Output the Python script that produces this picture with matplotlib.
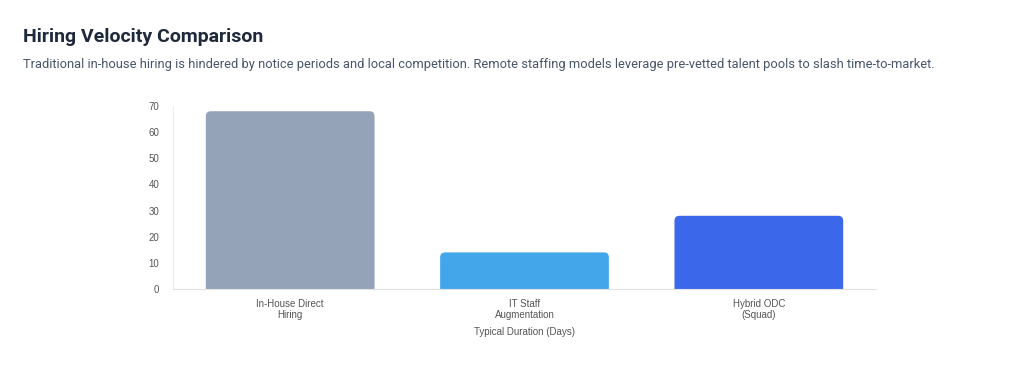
import matplotlib.pyplot as plt
from matplotlib.patches import FancyBboxPatch

categories = ["In-House Direct\nHiring", "IT Staff\nAugmentation", "Hybrid ODC\n(Squad)"]
days = [68, 14, 28]
colors = ["#94a3b8", "#44a6ea", "#3b68eb"]
yticks = [0, 10, 20, 30, 40, 50, 60, 70]

plt.rcParams['font.family'] = ['Roboto', 'DejaVu Sans']

fig = plt.figure(figsize=(10.24, 3.66), dpi=100)
fig.text(0.0225, 0.885, "Hiring Velocity Comparison", fontsize=14, fontweight='bold',
         color='#1e293b', va='baseline')
fig.text(0.0225, 0.815, "Traditional in-house hiring is hindered by notice periods and local competition. "
         "Remote staffing models leverage pre-vetted talent pools to slash time-to-market.",
         fontsize=9.3, color='#475569', va='baseline')

ax = fig.add_axes([173 / 1024, 1 - 289 / 366, (876 - 173) / 1024, (289 - 106) / 366])
x = range(len(categories))
bars = ax.bar(x, days, width=0.72, color=colors)

# swap plain bars for ones with rounded tops
ax.set_xlim(-0.5, len(categories) - 0.5)
ax.set_ylim(0, 70)
px_x = len(categories) / (876 - 173)
px_y = 70 / (289 - 106)
rx = 5 * px_x
ry = 5 * px_y
for b, c in zip(bars, colors):
    b.set_visible(False)
    p = FancyBboxPatch((b.get_x() + rx, -10 + ry), b.get_width() - 2 * rx, b.get_height() + 10 - 2 * ry,
                       boxstyle=f"round,pad={rx},rounding_size={rx}",
                       mutation_aspect=px_y / px_x, facecolor=c, edgecolor='none',
                       clip_on=True)
    ax.add_patch(p)

tick_font = ['Liberation Sans', 'DejaVu Sans']
ax.set_xticks(list(x))
ax.set_xticklabels(categories, fontsize=7, color='#555555', linespacing=1.2, family=tick_font)
ax.set_yticks(yticks)
ax.set_yticklabels([str(v) for v in yticks], family=tick_font)
ax.tick_params(axis='y', labelsize=7, colors='#555555', length=0, pad=10)
ax.tick_params(axis='x', length=0, pad=7)
ax.set_xlabel("Typical Duration (Days)", fontsize=7, color='#555555', labelpad=5, family=tick_font)
for s in ['top', 'right']:
    ax.spines[s].set_visible(False)
ax.spines['left'].set_color('#eeeeee')
ax.spines['bottom'].set_color('#e2e2e2')

fig.savefig("out.png", dpi=100)
